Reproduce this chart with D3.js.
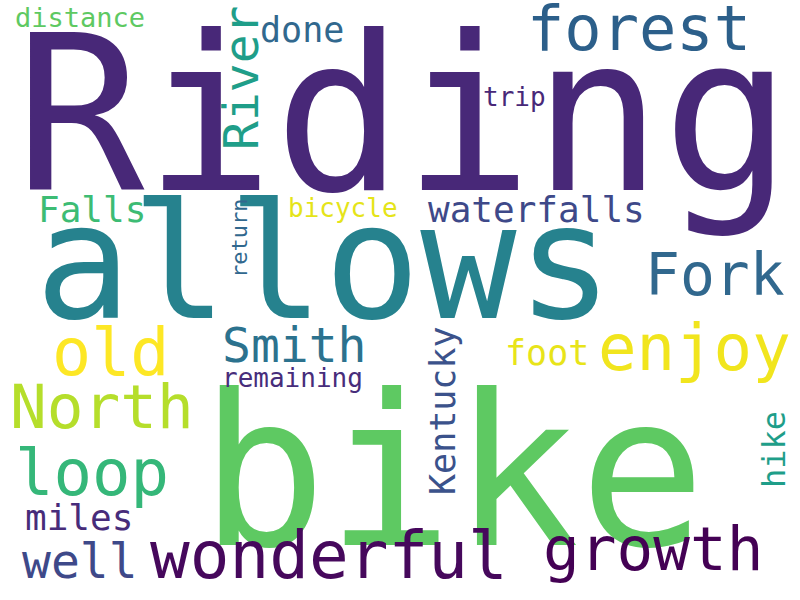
<!DOCTYPE html>
<html><head><meta charset="utf-8">
<script src="https://cdn.jsdelivr.net/npm/d3@7"></script>
<style>body{margin:0;background:#fff}</style></head>
<body><svg id="c" width="800" height="600"></svg>
<script>
const words   = ["Riding","allows","bike","forest","done","distance","River","trip","Fork","waterfalls","Falls","bicycle","return","old","Smith","enjoy","North","Kentucky","foot","remaining","hike","loop","miles","well","wonderful","growth"];
const sizes   = [215,160,210,62,35,27,48,26,58,36,36,26,22,65,48,64,61,35,35,26,32,64,36,48,66,61];
const xs      = [15,35,200,527,260,15,258,483,645,428,38,288,247,52,222,598,10,455,505,222,785,15,25,22,150,543];
const ys      = [190,318,545,50,42,27,150,106,295,222,222,217,278,375,362,370,428,495,365,387,488,495,530,578,578,570];
const rotated = [0,0,0,0,0,0,1,0,0,0,0,0,1,0,0,0,0,1,0,0,1,0,0,0,0,0];
const colors  = ["#482878","#26828e","#5ec962","#2c5f8a","#31688e","#5ec962","#1f9e89","#482878","#31688e","#3e4989","#3dbc74","#e5e419","#31688e","#fde725","#2c728e","#f1e51d","#b5de2b","#3b528b","#e8e419","#472d7b","#1f9e89","#35b779","#472c7a","#3e4989","#46085c","#440154"];
const svg = d3.select("#c");
svg.selectAll("text").data(words).join("text")
  .attr("font-family","DejaVu Sans Mono")
  .attr("font-size",(d,i)=>sizes[i])
  .attr("fill",(d,i)=>colors[i])
  .attr("transform",(d,i)=>`translate(${xs[i]},${ys[i]})`+(rotated[i]?" rotate(-90)":""))
  .text(d=>d);
</script></body></html>
